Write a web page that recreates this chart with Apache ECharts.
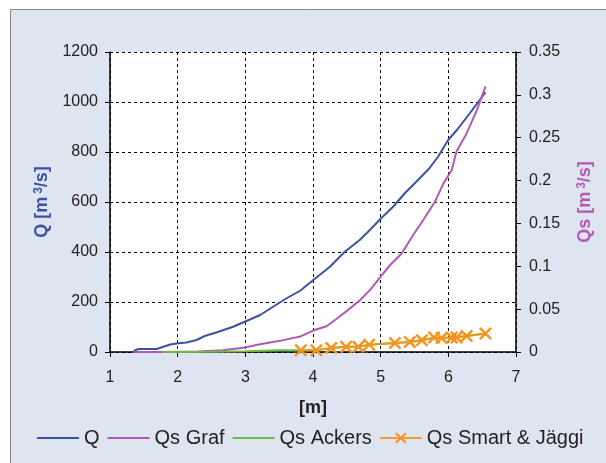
<!DOCTYPE html>
<html>
<head>
<meta charset="utf-8">
<script src="https://cdn.jsdelivr.net/npm/echarts@6/dist/echarts.min.js"></script>
<style>
  html, body { margin: 0; padding: 0; background: #fff; }
  #chart { width: 606px; height: 463px; }
</style>
</head>
<body>
<div id="chart"></div>
<script>
// Discharge Q and sediment transport Qs against water depth [m]
const xTicks = [1, 2, 3, 4, 5, 6, 7];

const qDepth = [1.35, 1.42, 1.69, 1.89, 2.01, 2.13, 2.28, 2.40, 2.58, 2.82, 2.99, 3.22, 3.41, 3.61, 3.81, 4.00,
                4.25, 4.47, 4.69, 4.84, 5.00, 5.19, 5.36, 5.53, 5.72, 5.85, 6.00, 6.13, 6.32, 6.45, 6.55];
const qValues = [4, 12, 12, 30, 35, 38, 48, 64, 79, 101, 121, 148, 181, 215, 245, 287,
                 341, 401, 448, 488, 533, 583, 636, 682, 735, 782, 849, 889, 956, 1003, 1039];

const grafDepth = [1.35, 1.75, 2.30, 2.67, 2.97, 3.22, 3.51, 3.81, 4.00, 4.20, 4.37, 4.50, 4.69, 4.86, 5.00,
                   5.14, 5.31, 5.48, 5.63, 5.80, 5.93, 6.05, 6.12, 6.27, 6.42, 6.55];
const grafValues = [0, 0, 0.0005, 0.002, 0.005, 0.009, 0.013, 0.018, 0.025, 0.030, 0.040, 0.048, 0.060, 0.074, 0.088,
                    0.1015, 0.115, 0.1365, 0.154, 0.175, 0.197, 0.212, 0.234, 0.255, 0.282, 0.31];

const ackersDepth = [1.78, 2.50, 3.00, 3.50, 3.82, 4.05, 4.27, 4.49, 4.67, 4.83, 5.21, 5.43, 5.61, 5.79, 6.05, 6.27, 6.55];
const ackersValues = [0, 0.0003, 0.001, 0.002, 0.002, 0.002, 0.0047, 0.006, 0.006, 0.0086, 0.0105, 0.0117, 0.0137, 0.0166, 0.0168, 0.0187, 0.0215];

const smartDepth = [3.82, 4.05, 4.27, 4.49, 4.67, 4.83, 5.21, 5.43, 5.61, 5.79, 5.90, 6.05, 6.12, 6.27, 6.55];
const smartValues = [0.002, 0.002, 0.0047, 0.006, 0.006, 0.0086, 0.0105, 0.0117, 0.0137, 0.0168, 0.0163, 0.0168, 0.0168, 0.0187, 0.0215];

const qTicks = [0, 200, 400, 600, 800, 1000, 1200];
const qsTicks = [0, 0.05, 0.1, 0.15, 0.2, 0.25, 0.3, 0.35];

const seriesNames = ['Q', 'Qs Graf', 'Qs Ackers', 'Qs Smart & Jäggi'];

const zip = (xs, ys) => xs.map((x, i) => [x, ys[i]]);

const FONT = "'Liberation Sans', Arial, sans-serif";
const BLUE = '#3a53a4';
const PURPLE = '#b25ab3';
const GREEN = '#6cbd45';
const ORANGE = '#f7941d';
const CROSS = 'path://M0,1.6L1.6,0L6,4.4L10.4,0L12,1.6L7.6,6L12,10.4L10.4,12L6,7.6L1.6,12L0,10.4L4.4,6Z';

const chart = echarts.init(document.getElementById('chart'), null, { renderer: 'canvas' });

const axisLine = { show: true, lineStyle: { color: '#000', width: 1.5 } };
const axisTick = { show: true, inside: false, length: 5, lineStyle: { color: '#000', width: 1 } };
const dashed = { show: true, lineStyle: { color: '#000', width: 1, type: [3, 3] } };
const plain = v => String(v);

chart.setOption({
  animation: false,
  backgroundColor: '#ffffff',
  graphic: [{
    type: 'rect',
    z: -10,
    silent: true,
    shape: { x: 10.5, y: 9.5, width: 620, height: 480 },
    style: { fill: '#dfe5f0', stroke: '#8a8a8a', lineWidth: 1 }
  }],
  grid: {
    left: 110, right: 90, top: 52, bottom: 111,
    show: true, backgroundColor: '#ffffff', borderWidth: 0
  },
  legend: {
    data: [
      { name: seriesNames[0], itemStyle: { opacity: 0 } },
      { name: seriesNames[1], itemStyle: { opacity: 0 } },
      { name: seriesNames[2], itemStyle: { opacity: 0 } },
      { name: seriesNames[3] }
    ],
    left: 36, top: 428, padding: 0,
    itemWidth: 42, itemHeight: 14, itemGap: 7,
    textStyle: { fontFamily: FONT, fontSize: 20, color: '#222' }
  },
  xAxis: {
    type: 'value',
    min: xTicks[0], max: xTicks[xTicks.length - 1], interval: 1,
    name: '[m]',
    nameLocation: 'middle',
    nameGap: 47,
    nameTextStyle: { fontFamily: FONT, fontSize: 18, fontWeight: 'bold', color: '#222' },
    axisLine, axisTick,
    axisLabel: { fontFamily: FONT, fontSize: 16, color: '#222', margin: 18, formatter: plain },
    splitLine: dashed
  },
  yAxis: [{
    type: 'value',
    position: 'left',
    min: qTicks[0], max: qTicks[qTicks.length - 1], interval: 200,
    name: 'Q [m{sup|3}/s]',
    nameLocation: 'middle',
    nameGap: 53,
    nameTextStyle: {
      fontFamily: FONT, fontSize: 18, fontWeight: 'bold', color: BLUE,
      rich: { sup: { fontFamily: FONT, fontSize: 12, fontWeight: 'bold', color: BLUE, verticalAlign: 'top', padding: [0, 0, 7, 3] } }
    },
    axisLine, axisTick,
    axisLabel: { fontFamily: FONT, fontSize: 16, color: '#222', margin: 12, formatter: plain },
    splitLine: dashed
  }, {
    type: 'value',
    position: 'right',
    min: qsTicks[0], max: qsTicks[qsTicks.length - 1], interval: 0.05,
    name: 'Qs [m{sup|3}/s]',
    nameLocation: 'middle',
    nameGap: 60,
    nameTextStyle: {
      fontFamily: FONT, fontSize: 18, fontWeight: 'bold', color: PURPLE,
      rich: { sup: { fontFamily: FONT, fontSize: 12, fontWeight: 'bold', color: PURPLE, verticalAlign: 'top', padding: [0, 0, 7, 3] } }
    },
    axisLine, axisTick,
    axisLabel: { fontFamily: FONT, fontSize: 16, color: '#222', margin: 13, formatter: plain },
    splitLine: { show: false }
  }],
  series: [{
    name: seriesNames[0], type: 'line', yAxisIndex: 0,
    data: zip(qDepth, qValues),
    symbol: 'none', color: BLUE, lineStyle: { width: 2, color: BLUE }
  }, {
    name: seriesNames[1], type: 'line', yAxisIndex: 1,
    data: zip(grafDepth, grafValues),
    symbol: 'none', color: PURPLE, lineStyle: { width: 2, color: PURPLE }
  }, {
    name: seriesNames[2], type: 'line', yAxisIndex: 1,
    data: zip(ackersDepth, ackersValues),
    symbol: 'none', color: GREEN, lineStyle: { width: 2, color: GREEN }
  }, {
    name: seriesNames[3], type: 'line', yAxisIndex: 1,
    data: zip(smartDepth, smartValues),
    symbol: CROSS, symbolSize: 13, showAllSymbol: true,
    color: ORANGE, itemStyle: { color: ORANGE },
    lineStyle: { width: 2, color: ORANGE, opacity: 0.9 }
  }]
});
</script>
</body>
</html>
